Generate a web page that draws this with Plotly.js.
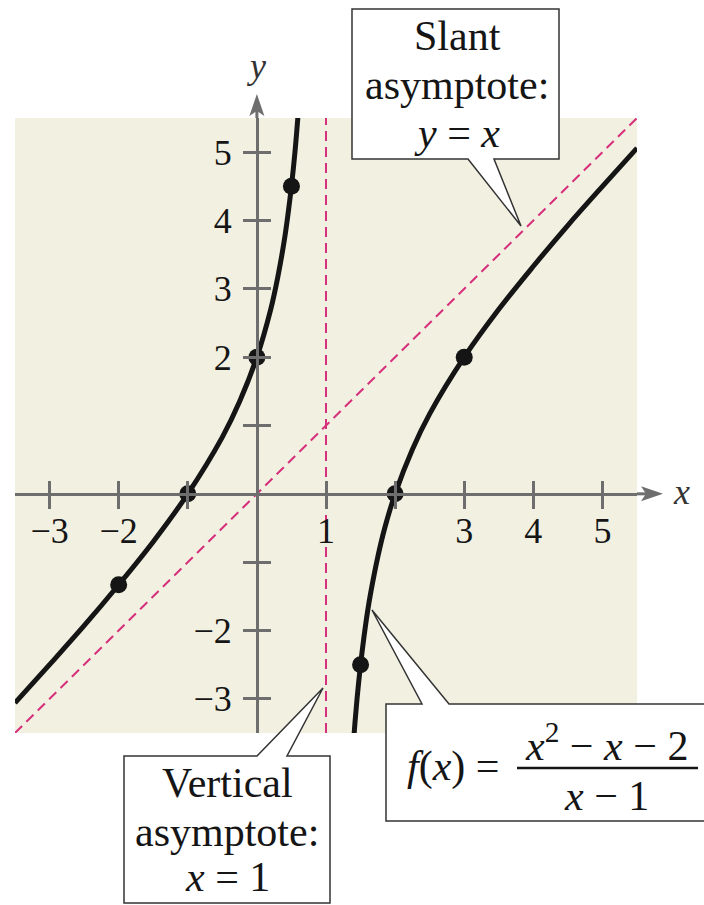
<!DOCTYPE html>
<html>
<head>
<meta charset="utf-8">
<script src="https://cdn.plot.ly/plotly-3.0.1.min.js"></script>
<style>
  html, body { margin: 0; padding: 0; background: #ffffff; }
  #chart { width: 704px; height: 905px; }
</style>
</head>
<body>
<div id="chart"></div>
<script>
// ---------- data ----------
const xRange = [-3.5, 5.5];
const yRange = [-3.5, 5.5];

// left branch of f(x) = (x^2 - x - 2)/(x - 1)
const leftX = [-3.5, -3, -2.5, -2, -1.5, -1, -0.5, -0.25, 0, 0.2, 0.3, 0.4, 0.45, 0.5, 0.55, 0.6];
const leftY = [-3.06, -2.5, -1.93, -1.33, -0.7, 0, 0.83, 1.35, 2, 2.7, 3.16, 3.73, 4.09, 4.5, 4.99, 5.6];

// right branch
const rightX = [1.4, 1.42, 1.45, 1.5, 1.55, 1.6, 1.65, 1.75, 1.85, 2, 2.25, 2.5, 3, 3.5, 4, 4.5, 5, 5.5];
const rightY = [-3.6, -3.34, -2.99, -2.5, -2.09, -1.73, -1.43, -0.92, -0.5, 0, 0.65, 1.17, 2, 2.7, 3.33, 3.93, 4.5, 5.06];

// plotted points
const ptX = [-2, -1, 0, 0.5, 1.5, 2, 3];
const ptY = [-1.33, 0, 2, 4.5, -2.5, 0, 2];

// asymptotes
const vertAsymX = [1, 1];
const vertAsymY = [-3.5, 5.5];
const slantAsymX = [-3.5, 5.5];
const slantAsymY = [-3.5, 5.5];

// ticks (labelled and unlabelled)
const xTickVals = [-3, -2, 1, 3, 4, 5];
const xTickText = ['\u22123', '\u22122', '1', '3', '4', '5'];
const xBareTicks = [-1, 2];
const yTickVals = [-3, -2, 2, 3, 4, 5];
const yTickText = ['\u22123', '\u22122', '2', '3', '4', '5'];
const yBareTicks = [-1, 1];
const xAllTicks = [-3, -2, -1, 1, 2, 3, 4, 5];
const yAllTicks = [-3, -2, -1, 1, 2, 3, 4, 5];

// text
const slantLines = ['Slant', 'asymptote:', '<i>y</i> = <i>x</i>'];
const vertLines = ['Vertical', 'asymptote:', '<i>x</i> = 1'];
const fLeft = '<i>f</i>(<i>x</i>) =';
const fNum = '<i>x</i><sup>2</sup> \u2212 <i>x</i> \u2212 2';
const fDen = '<i>x</i> \u2212 1';

// ---------- layout geometry (pixels) ----------
const W = 704, H = 905;
const M = { l: 15, r: 67, t: 118, b: 172 };
const PW = W - M.l - M.r, PH = H - M.t - M.b;
const px = x => (x - M.l) / PW;
const py = y => (H - M.b - y) / PH;
const pathOf = pts => pts.map((p, i) => (i ? 'L' : 'M') + px(p[0]).toFixed(5) + ',' + py(p[1]).toFixed(5)).join(' ') + ' Z';

const x0frac = (0 - xRange[0]) / (xRange[1] - xRange[0]);
const y0frac = (0 - yRange[0]) / (yRange[1] - yRange[0]);
const axisPxX = M.l + x0frac * PW;          // pixel x of y axis
const axisPxY = H - M.b - y0frac * PH;      // pixel y of x axis

const serif = '"Liberation Serif", "Times New Roman", serif';
const gray = '#6e6e6e';
const pink = '#d62f7b';
const ink = '#151515';
const txt = '#151515';

const traces = [
  { x: slantAsymX, y: slantAsymY, mode: 'lines', line: { color: pink, width: 2, dash: '10px,6px' }, hoverinfo: 'skip' },
  { x: vertAsymX, y: vertAsymY, mode: 'lines', line: { color: pink, width: 2, dash: '10px,6px' }, hoverinfo: 'skip' },
  { x: leftX, y: leftY, mode: 'lines', line: { color: ink, width: 5, shape: 'spline' } },
  { x: rightX, y: rightY, mode: 'lines', line: { color: ink, width: 5, shape: 'spline' } },
  { x: ptX, y: ptY, mode: 'markers', marker: { color: ink, size: 17 }, cliponaxis: false },
  { x: [], y: [], xaxis: 'x2', yaxis: 'y2', hoverinfo: 'skip' }
];

const tickStyle = { tickcolor: gray, tickwidth: 3, ticklen: 13, ticks: 'outside' };
const axBase = Object.assign({
  range: xRange, showgrid: false, zeroline: false, fixedrange: true,
  tickfont: { family: serif, size: 36, color: txt }
}, tickStyle);

const shapes = [
  // axis extensions
  { type: 'line', xref: 'paper', yref: 'paper', x0: 1, x1: px(652), y0: y0frac, y1: y0frac, line: { color: gray, width: 3 } },
  { type: 'line', xref: 'paper', yref: 'paper', x0: x0frac, x1: x0frac, y0: 1, y1: py(106), line: { color: gray, width: 3 } },
  // arrowheads
  { type: 'path', xref: 'paper', yref: 'paper', fillcolor: gray, line: { width: 0 },
    path: pathOf([[663, axisPxY], [641, axisPxY - 7.5], [646, axisPxY], [641, axisPxY + 7.5]]) },
  { type: 'path', xref: 'paper', yref: 'paper', fillcolor: gray, line: { width: 0 },
    path: pathOf([[axisPxX, 94], [axisPxX - 7.5, 116], [axisPxX, 111], [axisPxX + 7.5, 116]]) },
  // callouts
  { type: 'path', xref: 'paper', yref: 'paper', fillcolor: '#ffffff', line: { color: '#333', width: 1.5 },
    path: pathOf([[352, 9], [559, 9], [559, 159], [494, 159], [521, 226], [468, 159], [352, 159]]) },
  { type: 'path', xref: 'paper', yref: 'paper', fillcolor: '#ffffff', line: { color: '#333', width: 1.5 },
    path: pathOf([[124, 756], [257, 756], [323, 688], [287, 756], [330, 756], [330, 903], [124, 903]]) },
  { type: 'path', xref: 'paper', yref: 'paper', fillcolor: '#ffffff', line: { color: '#333', width: 1.5 },
    path: pathOf([[386, 704], [422, 704], [372, 610], [449, 704], [712, 704], [712, 821], [386, 821]]) },
  // fraction bar
  { type: 'line', xref: 'paper', yref: 'paper', x0: px(517), x1: px(698), y0: py(768), y1: py(768), line: { color: ink, width: 2.5 } }
];

const textFont = { family: serif, size: 42, color: txt };
const ann = (t, x, y, font) => ({ text: t, xref: 'paper', yref: 'paper', x: px(x), y: py(y),
  xanchor: 'center', yanchor: 'middle', showarrow: false, font: font || textFont });

const annotations = [
  ann('<i>y</i>', axisPxX, 66, { family: serif, size: 36, color: '#333' }),
  ann('<i>x</i>', 681, axisPxY - 2, { family: serif, size: 36, color: '#333' }),
  ann(slantLines[0], 457, 36),
  ann(slantLines[1], 457, 85),
  ann(slantLines[2], 457, 133),
  ann(vertLines[0], 227, 783),
  ann(vertLines[1], 227, 832),
  ann(vertLines[2], 227, 877),
  ann(fLeft, 453, 766),
  ann(fNum, 606, 742),
  ann(fDen, 606, 796)
];

const layout = {
  width: W, height: H,
  margin: M,
  paper_bgcolor: '#ffffff',
  plot_bgcolor: '#f2f0e1',
  showlegend: false,
  xaxis: Object.assign({}, axBase, {
    anchor: 'free', position: y0frac, tickvals: xTickVals, ticktext: xTickText,
    minor: Object.assign({ tickvals: xBareTicks, showgrid: false }, tickStyle),
    showline: true, linecolor: gray, linewidth: 3, ticklabelstandoff: -9
  }),
  yaxis: Object.assign({}, axBase, {
    range: yRange, anchor: 'free', position: x0frac, tickvals: yTickVals, ticktext: yTickText,
    minor: Object.assign({ tickvals: yBareTicks, showgrid: false }, tickStyle),
    showline: true, linecolor: gray, linewidth: 3, ticklabelstandoff: 4
  }),
  xaxis2: Object.assign({}, axBase, {
    overlaying: 'x', side: 'top', anchor: 'free', position: y0frac,
    tickvals: xAllTicks, showticklabels: false, showline: false
  }),
  yaxis2: Object.assign({}, axBase, {
    range: yRange, overlaying: 'y', side: 'right', anchor: 'free', position: x0frac,
    tickvals: yAllTicks, showticklabels: false, showline: false
  }),
  shapes: shapes,
  annotations: annotations
};

Plotly.newPlot('chart', traces, layout, { displayModeBar: false, staticPlot: true });
</script>
</body>
</html>
